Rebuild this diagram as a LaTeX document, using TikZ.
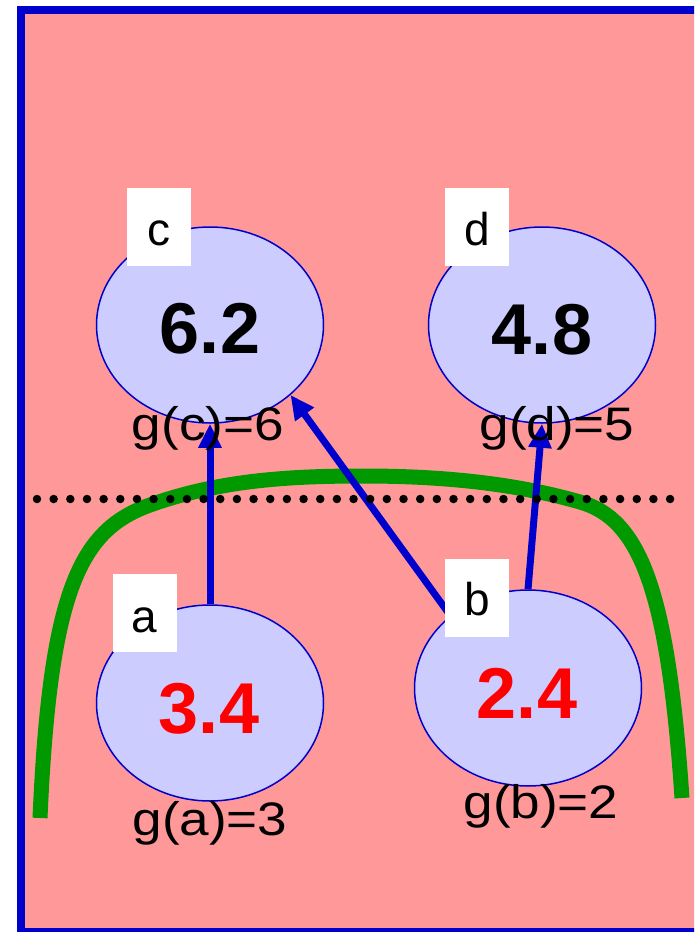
\documentclass[tikz,border=0pt]{standalone}
\usepackage{fontspec}
\setmainfont{Liberation Sans}
\usetikzlibrary{shapes.geometric,arrows.meta}
\definecolor{bgpink}{HTML}{FF9999}
\definecolor{frameblue}{HTML}{0000CC}
\definecolor{ellfill}{HTML}{CCCCFF}
\definecolor{curvegreen}{HTML}{009900}
\definecolor{numred}{HTML}{FF0000}
\newcommand{\gtext}[1]{\scalebox{1.13}[1]{#1}}
\tikzset{
  state/.style={ellipse, draw=frameblue, line width=1.5pt, fill=ellfill,
    minimum width=227pt, minimum height=196pt, inner sep=0pt},
  namebox/.style={fill=white, minimum width=64pt, minimum height=78pt, inner sep=0pt,
    font=\fontsize{46}{50}\selectfont},
  bignum/.style={anchor=base, inner sep=0pt, font=\fontsize{72}{76}\selectfont\bfseries},
  glabel/.style={anchor=base, inner sep=0pt, font=\fontsize{47}{50}\selectfont},
  letter/.style={anchor=base, inner sep=0pt, font=\fontsize{46}{50}\selectfont},
  edge/.style={draw=frameblue, line width=7pt, -{Triangle[length=24pt,width=22pt]}},
}
\begin{document}
\begin{tikzpicture}[x=1pt,y=-1pt]
\useasboundingbox (0,0) rectangle (694,932);
\clip (0,0) rectangle (694,932);
% frame
\draw[frameblue, fill=bgpink, line width=8pt] (21,10) rectangle (710,932);
% green curve
\draw[curvegreen, line width=15pt]
  (40,818) .. controls (50,590) and (80,530) .. (150,505)
  .. controls (220,480) and (290,476) .. (363,476)
  .. controls (436,476) and (510,482) .. (580,502)
  .. controls (640,519) and (668,590) .. (682,798);
% state nodes
\node[state] (c) at (210,325) {};
\node[state] (d) at (542,325) {};
\node[state] (a) at (210,703) {};
\node[state] (b) at (528,688) {};
% arrows
\draw[edge] (a.north) -- (c.south);
\draw[edge] (b.137) -- (c.-41);
\draw[edge] (b.north) -- (d.south);
% dotted line
\draw[black, line width=8.5pt, dash pattern=on 0pt off 16.66pt, line cap=round] (37,499) -- (673,499);
% numbers
\node[bignum] (nc) at (210,353) {6.2};
\node[bignum] (nd) at (542,354) {4.8};
\node[bignum, text=numred] (na) at (209,733) {3.4};
\node[bignum, text=numred] (nb) at (527,718) {2.4};
% g labels
\node[glabel] (gc) at (208,440) {\gtext{g(c)=6}};
\node[glabel] (gd) at (557,440) {\gtext{g(d)=5}};
\node[glabel] (ga) at (210,835) {\gtext{g(a)=3}};
\node[glabel] (gb) at (541,818) {\gtext{g(b)=2}};
% name boxes
\node[namebox] (lc) at (158.5,227) {};
\node[namebox] (ld) at (477,227) {};
\node[namebox] (la) at (145,613) {};
\node[namebox] (lb) at (477,598) {};
\node[letter] (tc) at (158.5,245) {c};
\node[letter] (td) at (477,245) {d};
\node[letter] (ta) at (144,632) {a};
\node[letter] (tb) at (477,615) {b};
\end{tikzpicture}
\end{document}
